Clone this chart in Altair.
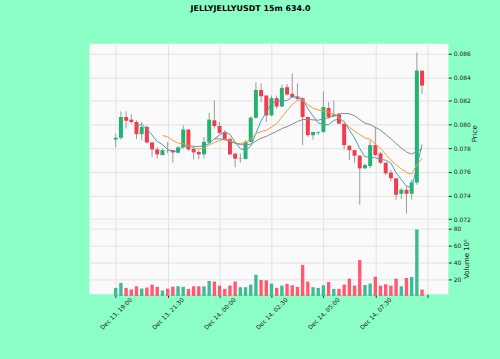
import altair as alt
import pandas as pd

# ---- data ----
times = pd.date_range("2024-12-13 19:00", periods=60, freq="15min")

opens = [0.07873, 0.07887, 0.08063, 0.08041, 0.08021, 0.07918, 0.07979, 0.07848, 0.07789, 0.07741,
         0.07778, 0.07783, 0.07761, 0.07806, 0.07957, 0.07794, 0.07767, 0.07747, 0.07848, 0.08035,
         0.07987, 0.07934, 0.07878, 0.07753, 0.07711, 0.07708, 0.07853, 0.08057, 0.08292, 0.08245,
         0.08077, 0.08222, 0.08152, 0.08315, 0.08259, 0.08236, 0.08222, 0.08063, 0.07909, 0.07930,
         0.07937, 0.08139, 0.08069, 0.08085, 0.08007, 0.07820, 0.07783, 0.07736, 0.07629, 0.07649,
         0.07825, 0.07755, 0.07677, 0.07593, 0.07545, 0.07414, 0.07448, 0.07414, 0.07509, 0.08455]
highs = [0.07920, 0.08110, 0.08111, 0.08085, 0.08035, 0.08021, 0.07993, 0.07853, 0.07811, 0.07797,
         0.07853, 0.07783, 0.07817, 0.07993, 0.07957, 0.07811, 0.07783, 0.07895, 0.08097, 0.08203,
         0.08021, 0.07951, 0.07890, 0.07761, 0.07755, 0.07867, 0.08069, 0.08357, 0.08348, 0.08245,
         0.08245, 0.08245, 0.08337, 0.08343, 0.08432, 0.08348, 0.08230, 0.08063, 0.07937, 0.07940,
         0.08281, 0.08189, 0.08203, 0.08097, 0.08007, 0.07825, 0.07783, 0.07741, 0.07671, 0.07867,
         0.07979, 0.07769, 0.07677, 0.07615, 0.07545, 0.07462, 0.07476, 0.07532, 0.08608, 0.08455]
lows = [0.07806, 0.07873, 0.07965, 0.08007, 0.07878, 0.07867, 0.07840, 0.07727, 0.07713, 0.07741,
        0.07755, 0.07677, 0.07755, 0.07797, 0.07778, 0.07705, 0.07705, 0.07713, 0.07840, 0.07965,
        0.07918, 0.07867, 0.07741, 0.07638, 0.07677, 0.07705, 0.07853, 0.08049, 0.08189, 0.08021,
        0.08069, 0.08133, 0.08147, 0.08245, 0.08225, 0.08203, 0.07825, 0.07895, 0.07873, 0.07910,
        0.07929, 0.08049, 0.08063, 0.08001, 0.07789, 0.07699, 0.07677, 0.07322, 0.07624, 0.07629,
        0.07733, 0.07666, 0.07573, 0.07518, 0.07364, 0.07369, 0.07246, 0.07364, 0.07490, 0.08259]
closes = [0.07887, 0.08063, 0.08032, 0.08021, 0.07918, 0.07979, 0.07848, 0.07789, 0.07747, 0.07783,
          0.07775, 0.07764, 0.07806, 0.07957, 0.07789, 0.07764, 0.07747, 0.07853, 0.08041, 0.07987,
          0.07929, 0.07878, 0.07747, 0.07711, 0.07715, 0.07853, 0.08057, 0.08292, 0.08239, 0.08077,
          0.08222, 0.08152, 0.08309, 0.08253, 0.08231, 0.08217, 0.08063, 0.07909, 0.07937, 0.07937,
          0.08147, 0.08063, 0.08085, 0.08007, 0.07825, 0.07783, 0.07736, 0.07629, 0.07657, 0.07825,
          0.07741, 0.07677, 0.07587, 0.07545, 0.07406, 0.07448, 0.07414, 0.07509, 0.08455, 0.08329]
volumes = [9.5, 15.4, 9.5, 7.6, 11.4, 8.7, 9.9, 13.4, 10.7, 6.4,
           8.7, 11.0, 11.4, 10.7, 8.3, 11.4, 11.4, 11.4, 17.7, 17.0,
           12.2, 8.3, 12.2, 17.0, 10.3, 10.3, 13.4, 25.0, 18.8, 18.5,
           14.6, 9.5, 12.2, 14.2, 12.6, 10.7, 36.7, 16.9, 10.3, 9.5,
           12.6, 16.5, 8.3, 8.3, 13.4, 20.4, 12.2, 42.5, 12.9, 14.6,
           22.7, 12.2, 13.8, 12.2, 20.4, 11.4, 21.2, 22.4, 78.6, 7.6]

price_ticks = [0.072, 0.074, 0.076, 0.078, 0.080, 0.082, 0.084, 0.086]
volume_ticks = [20, 40, 60, 80]
title_text = "JELLYJELLYUSDT 15m 634.0"

df = pd.DataFrame({"t": times, "open": opens, "high": highs, "low": lows,
                   "close": closes, "volume": volumes})
df["dir"] = ["up" if c >= o else "down" for o, c in zip(opens, closes)]

# ---- style ----
FONT = "DejaVu Sans"
BG = "#8BFFC6"
GREEN, RED = "#1FB46F", "#F23B4E"
VGREEN, VRED = "#3DBB95", "#FF5A70"
WICK = "#9A9A9A"
GRID = "#E3E3E3"
TXT = "#222222"

def dt(d, h, m, s=0):
    return alt.DateTime(year=2024, month=12, date=d, hours=h, minutes=m, seconds=s)

x_ticks = [dt(13, 19, 0), dt(13, 21, 30), dt(14, 0, 0), dt(14, 2, 30),
           dt(14, 5, 0), dt(14, 7, 30), dt(14, 10, 0)]
x_scale = alt.Scale(domain=[dt(13, 17, 58, 30), dt(14, 10, 46, 30)], nice=False)

PW = 361

# ---- price panel ----
x_price = alt.X("t:T", scale=x_scale,
                axis=alt.Axis(values=x_ticks, labels=False, ticks=False, title=None,
                              grid=True, gridColor=GRID, domain=False))
price_scale = alt.Scale(domain=[0.07169, 0.08682], nice=False, zero=False)
price_axis = alt.Axis(orient="right", values=price_ticks, format=".3f", title="Price",
                      titleAngle=270, titleBaseline="top", titleFontSize=7, titleFont=FONT,
                      titleFontWeight="normal", titleColor=TXT, titlePadding=0,
                      labelFontSize=6, labelColor=TXT, labelFont=FONT, tickSize=3,
                      tickColor=TXT, domain=False, grid=True, gridColor=GRID, labelPadding=2)

base = alt.Chart(df).encode(x=x_price)

wicks = base.mark_rule(color=WICK, strokeWidth=1).encode(
    y=alt.Y("low:Q", scale=price_scale, axis=price_axis), y2="high:Q")
bodies = base.mark_bar(size=4).encode(
    y=alt.Y("open:Q", scale=price_scale, axis=price_axis), y2="close:Q",
    color=alt.Color("dir:N", scale=alt.Scale(domain=["up", "down"], range=[GREEN, RED]),
                    legend=None))

def ma_layer(n, color):
    name = f"ma{n}"
    return (base.transform_window(**{name: "mean(close)", "cnt": "count()"},
                                  frame=[-(n - 1), 0], sort=[{"field": "t"}])
            .transform_filter(f"datum.cnt >= {n}")
            .mark_line(color=color, strokeWidth=1)
            .encode(y=alt.Y(f"{name}:Q", scale=price_scale, axis=price_axis)))

price = alt.layer(wicks, bodies, ma_layer(5, "#4A9CB4"), ma_layer(10, "#F29A3A"),
                  ma_layer(20, "#888888")).properties(width=PW, height=180)

# ---- volume panel ----
x_vol = alt.X("t:T", scale=x_scale,
              axis=alt.Axis(values=x_ticks, title=None, grid=True, gridColor=GRID, domain=False,
                            labelExpr="timeFormat(datum.value, '%H:%M') == '10:00' ? '' : timeFormat(datum.value, '%b %d, %H:%M')",
                            labelAngle=315, labelAlign="center", labelBaseline="middle",
                            labelPadding=16, labelFontSize=6, labelFont=FONT, labelColor=TXT,
                            tickSize=3, tickColor=TXT))
vol = alt.Chart(df).mark_bar(size=3.4).encode(
    x=x_vol,
    y=alt.Y("volume:Q", scale=alt.Scale(domain=[1.92, 86.5], nice=False, zero=False),
            axis=alt.Axis(orient="right", values=volume_ticks, title="Volume  10⁵",
                          titleAngle=270, titleBaseline="top", titleFontSize=7, titleFont=FONT,
                          titleFontWeight="normal", titleColor=TXT, titlePadding=2,
                          labelFontSize=6, labelColor=TXT, labelFont=FONT, tickSize=3,
                          tickColor=TXT, domain=False, grid=True, gridColor=GRID,
                          labelPadding=2)),
    color=alt.Color("dir:N", scale=alt.Scale(domain=["up", "down"], range=[VGREEN, VRED]),
                    legend=None),
).properties(width=PW, height=72)

chart = alt.vconcat(price, vol, spacing=0).resolve_scale(color="independent").properties(
    title=alt.TitleParams(title_text, font=FONT, fontSize=8, fontWeight="bold", color="#000000",
                          anchor="middle", dx=-33, offset=31),
    padding={"left": 90, "top": 4, "right": 22, "bottom": 28},
    background=BG,
).configure_view(fill="#FAFAFA", stroke=None)

chart.save("out.html", embed_options={"renderer": "svg", "actions": False})
